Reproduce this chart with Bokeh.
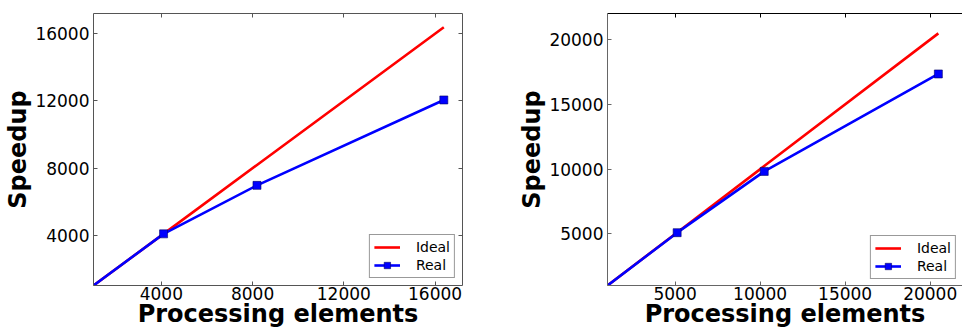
from bokeh.plotting import figure
from bokeh.layouts import row
from bokeh.models import Range1d, LinearAxis, FixedTicker, CustomLabelingPolicy
from bokeh.embed import file_html
from bokeh.resources import INLINE

# ---------------- data ----------------
series_names = ["Ideal", "Real"]
x_title = "Processing elements"
y_title = "Speedup"

left_pe = [1, 4096, 8192, 16384]
left_ideal = [1, 4096, 8192, 16384]
left_real = [1, 4096, 6980, 12060]
left_ticks = [4000, 8000, 12000, 16000]

right_pe = [1, 5120, 10240, 20480]
right_ideal = [1, 5120, 10240, 20480]
right_real = [1, 5100, 9830, 17350]
right_ticks = [5000, 10000, 15000, 20000]

FONT = "DejaVu Sans"


def style_axis(ax, ticks, color, show_labels=True):
    ax.ticker = FixedTicker(ticks=ticks)
    ax.major_tick_in = 4
    ax.major_tick_out = 0
    ax.minor_tick_line_color = None
    ax.axis_line_color = color
    ax.axis_line_width = 1
    ax.major_tick_line_color = color
    ax.major_tick_line_width = 1
    ax.major_label_text_font = FONT
    ax.major_label_text_color = "black"
    if show_labels:
        ax.major_label_text_font_size = "17px"
        ax.major_label_standoff = 4
        ax.axis_label_text_font = FONT
        ax.axis_label_text_font_style = "bold"
        ax.axis_label_text_font_size = "24px"
        ax.axis_label_text_color = "black"
    else:
        # spine with inward ticks only (no tick labels drawn)
        ax.major_label_policy = CustomLabelingPolicy(code="return []")
        ax.major_label_text_font_size = "1px"
        ax.major_label_standoff = 0


def make_panel(pe, ideal, real, ticks, xr, yr, width, height, borders,
               spine_colors, right_spine, legend_margin):
    bl, br, bt, bb = borders
    p = figure(width=width, height=height, x_range=Range1d(*xr), y_range=Range1d(*yr),
               output_backend="svg", toolbar_location=None,
               x_axis_location=None, y_axis_location=None,
               min_border_left=bl, min_border_right=br, min_border_top=bt, min_border_bottom=bb,
               background_fill_color="white", border_fill_color="white")
    p.outline_line_color = None
    p.grid.grid_line_color = None

    c_left, c_bottom, c_top, c_right = spine_colors
    ax_b = LinearAxis(axis_label=x_title)
    style_axis(ax_b, ticks, c_bottom, True)
    ax_b.major_label_standoff = 1
    ax_b.axis_label_standoff = -3
    p.add_layout(ax_b, "below")

    ax_l = LinearAxis(axis_label=y_title)
    style_axis(ax_l, ticks, c_left, True)
    ax_l.major_label_standoff = 4
    ax_l.axis_label_standoff = 0
    p.add_layout(ax_l, "left")

    ax_t = LinearAxis(); style_axis(ax_t, ticks, c_top, False); p.add_layout(ax_t, "above")
    if right_spine:
        ax_r = LinearAxis(); style_axis(ax_r, ticks, c_right, False); p.add_layout(ax_r, "right")

    p.line(pe, ideal, line_color="#ff0000", line_width=2.6, legend_label=series_names[0])
    p.line(pe, real, line_color="#0000ff", line_width=2.6, legend_label=series_names[1])
    p.scatter(pe, real, marker="square", size=8, fill_color="#0000ff",
              line_color="#000066", line_width=0.6, legend_label=series_names[1])

    lg = p.legend[0]
    lg.location = "bottom_right"
    lg.margin = legend_margin
    lg.padding = 4
    lg.spacing = 2
    lg.glyph_width = 26
    lg.glyph_height = 16
    lg.label_height = 16
    lg.label_standoff = 16
    lg.label_text_font = FONT
    lg.label_text_font_size = "14px"
    lg.label_text_color = "black"
    lg.border_line_color = "#333333"
    lg.border_line_width = 1
    lg.background_fill_color = "white"
    lg.background_fill_alpha = 1.0
    return p


left = make_panel(left_pe, left_ideal, left_real, left_ticks,
                  (1024, 17203), (1024, 17203), 478, 331, (93, 16, 13, 45),
                  ("#555555", "#555555", "#555555", "#555555"), True, 7)

right = make_panel(right_pe, right_ideal, right_real, right_ticks,
                   (1024, 21900), (1024, 22016), 484, 331, (129, 0, 10, 46),
                   ("#666666", "#666666", "#000000", "#000000"), False, 6)

layout = row(left, right)
open("out.html", "w").write(file_html(layout, INLINE))
